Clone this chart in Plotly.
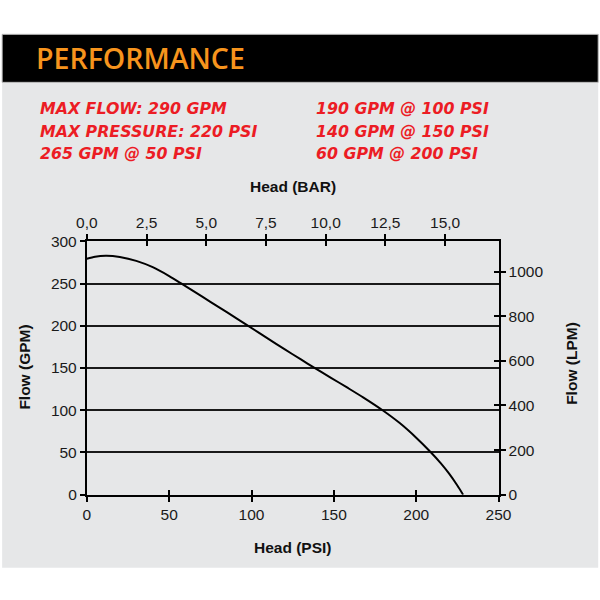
import plotly.graph_objects as go

# ---- data ----
head_psi = [0, 5, 12, 20, 30, 40, 50, 57.5, 65, 75, 85, 98, 110, 120, 130, 138, 148, 158, 168, 179.6, 190, 200, 209, 215, 220, 225, 228.5]
flow_gpm = [279.5, 282, 283, 281.5, 277, 269.5, 259, 250, 240.8, 228.5, 216.2, 200, 184.8, 172.4, 160.2, 150.5, 138.8, 127, 115, 100, 84.8, 67.5, 50, 37.1, 24.9, 10.9, 0]

title_text = "PERFORMANCE"
spec_left = ["MAX FLOW: 290 GPM", "MAX PRESSURE: 220 PSI", "265 GPM @ 50 PSI"]
spec_right = ["190 GPM @ 100 PSI", "140 GPM @ 150 PSI", "60 GPM @ 200 PSI"]

PSI_MAX = 250
GPM_MAX = 300
PSI_PER_BAR = 14.5038
LPM_PER_GPM = 3.78541

# mapping of target screen pixels to figure pixels (measured rendering offset / scale)
OX, OY = 8.9, 8.7
SX, SY = 0.9635, 0.971
FW, FH = 606, 601
def fx(X):
    return (X - OX) / SX
def fy(Y):
    return (Y - OY) / SY
def px(X):
    return fx(X) / FW
def py(Y):
    return 1 - fy(Y) / FH

x0, x1 = 85, 498
y0, y1 = 241, 494

tickfont = dict(family="Liberation Sans, Arial", size=15.5, color="#1a1a1a")
axfont = dict(family="Liberation Sans, Arial", size=15.5, color="#111111", weight="bold")

fig = go.Figure()
fig.add_trace(go.Scatter(x=head_psi, y=flow_gpm, mode="lines",
                         line=dict(color="black", width=2, shape="spline", smoothing=0.7),
                         xaxis="x", yaxis="y", showlegend=False, hoverinfo="skip"))
for xa, ya in [("x2", "y"), ("x", "y2"), ("x3", "y"), ("x4", "y"), ("x", "y3")]:
    fig.add_trace(go.Scatter(x=[None], y=[None], xaxis=xa, yaxis=ya, showlegend=False, hoverinfo="skip"))

line_style = dict(showline=True, linecolor="black", linewidth=2)
dom_x = [px(x0), px(x1)]
dom_y = [py(y1), py(y0)]
tk = dict(ticklen=5, tickwidth=1.5, tickcolor="black")

fig.update_layout(
    width=FW, height=FH,
    margin=dict(l=0, r=0, t=0, b=0),
    paper_bgcolor="white",
    plot_bgcolor="rgba(0,0,0,0)",
    separators=",.",
    xaxis=dict(domain=dom_x, range=[0, PSI_MAX], dtick=50, tick0=0, anchor="y",
               ticks="outside", tickfont=tickfont, showgrid=False, zeroline=False, **tk, **line_style),
    xaxis3=dict(domain=dom_x, range=[0, PSI_MAX], dtick=50, tick0=0, anchor="y", overlaying="x",
                ticks="inside", showticklabels=False, showgrid=False, zeroline=False, showline=False, **tk),
    xaxis2=dict(domain=dom_x, range=[0, PSI_MAX / PSI_PER_BAR], dtick=2.5, tick0=0, tickformat=".1f",
                anchor="y", overlaying="x", side="top",
                ticks="outside", tickfont=tickfont, showgrid=False, zeroline=False, **tk, **line_style),
    xaxis4=dict(domain=dom_x, range=[0, PSI_MAX / PSI_PER_BAR], dtick=2.5, tick0=0,
                anchor="y", overlaying="x", side="top",
                ticks="inside", showticklabels=False, showgrid=False, zeroline=False, showline=False, **tk),
    yaxis=dict(domain=dom_y, range=[0, GPM_MAX], dtick=50, tick0=0, anchor="x",
               ticks="outside", tickfont=tickfont, showgrid=True, gridcolor="#1a1a1a", gridwidth=1.6,
               zeroline=False, **tk, **line_style),
    yaxis2=dict(domain=dom_y, range=[0, GPM_MAX * LPM_PER_GPM], dtick=200, tick0=0,
                anchor="x", overlaying="y", side="right",
                ticks="outside", tickfont=tickfont, showgrid=False, zeroline=False, **tk, **line_style),
    yaxis3=dict(domain=dom_y, range=[0, GPM_MAX * LPM_PER_GPM], dtick=200, tick0=0,
                anchor="x", overlaying="y", side="right",
                ticks="inside", showticklabels=False, showgrid=False, zeroline=False, showline=False, **tk),
)

shapes = [
    dict(type="rect", xref="paper", yref="paper", x0=px(0), x1=px(598), y0=py(567), y1=py(82),
         fillcolor="#e6e7e8", line=dict(width=0), layer="below"),
    dict(type="rect", xref="paper", yref="paper", x0=px(0), x1=px(598), y0=py(82), y1=py(34),
         fillcolor="black", line=dict(color="#bbbbbb", width=1), layer="below"),
]
fig.update_layout(shapes=shapes)

ann = []
ann.append(dict(text=title_text, x=px(32), y=py(57.5), xref="paper", yref="paper",
                xanchor="left", yanchor="middle", showarrow=False,
                font=dict(family="Open Sans", size=28.5, color="#f7941d", weight=600)))
red = dict(family="DejaVu Sans", size=15.8, color="#ec1c24", weight="bold", style="italic")
rows_y = [108.5, 131, 153]
for i, t in enumerate(spec_left):
    ann.append(dict(text=t, x=px(36), y=py(rows_y[i]), xref="paper", yref="paper",
                    xanchor="left", yanchor="middle", showarrow=False, font=red))
for i, t in enumerate(spec_right):
    ann.append(dict(text=t, x=px(313), y=py(rows_y[i]), xref="paper", yref="paper",
                    xanchor="left", yanchor="middle", showarrow=False, font=red))
ann.append(dict(text="Head (BAR)", x=px(292), y=py(186), xref="paper", yref="paper",
                xanchor="center", yanchor="middle", showarrow=False, font=axfont))
ann.append(dict(text="Head (PSI)", x=px(292), y=py(547), xref="paper", yref="paper",
                xanchor="center", yanchor="middle", showarrow=False, font=axfont))
ann.append(dict(text="Flow (GPM)", x=px(23), y=py(367), xref="paper", yref="paper",
                xanchor="center", yanchor="middle", showarrow=False, textangle=-90, font=axfont))
ann.append(dict(text="Flow (LPM)", x=px(571), y=py(363), xref="paper", yref="paper",
                xanchor="center", yanchor="middle", showarrow=False, textangle=-90, font=axfont))
fig.update_layout(annotations=ann)

fig.write_html("out.html")
